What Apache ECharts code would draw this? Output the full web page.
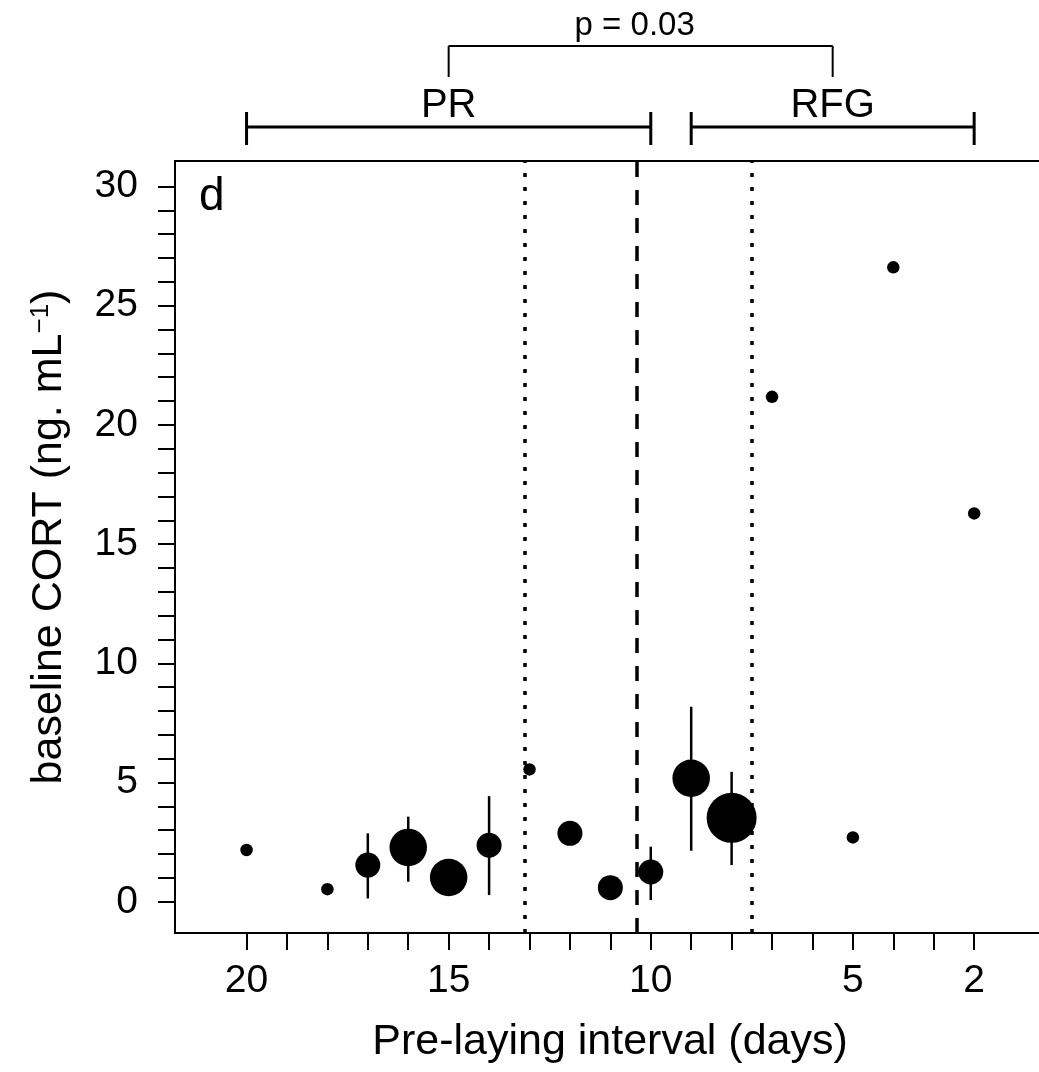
<!DOCTYPE html>
<html>
<head>
<meta charset="utf-8">
<script src="https://cdn.jsdelivr.net/npm/echarts@6/dist/echarts.min.js"></script>
<style>
    html, body { margin: 0; padding: 0; background: #fff; }
    #chart { width: 1039px; height: 1072px; }
</style>
</head>
<body>
<div id="chart"></div>
<script>
// 产前间隔（天）与基础 CORT
const days = [20, 18, 17, 16, 15, 14, 13, 12, 11, 10, 9, 8, 7, 5, 4, 2];
const cort = [2.17, 0.53, 1.54, 2.28, 1.02, 2.37, 5.55, 2.87, 0.59, 1.25, 5.18, 3.52, 21.18, 2.70, 26.61, 16.29];
const nSamples = [1, 1, 2, 3, 3, 2, 1, 2, 2, 2, 3, 4, 1, 1, 1, 1]; // 点的大小

// 误差线
const errDays = [17, 16, 14, 10, 9, 8];
const errLow = [0.14, 0.84, 0.28, 0.07, 2.14, 1.54];
const errHigh = [2.87, 3.57, 4.43, 2.31, 8.18, 5.45];

// 竖线
const dottedAt = [13.12, 7.5];
const dashedAt = [10.34];

// 上方分组括号
const groupNames = ['PR', 'RFG'];
const groupFrom = [20, 9];
const groupTo = [10, 2];
const compareFrom = [15];
const compareTo = [5.5];
const compareText = ['p = 0.03'];

// 刻度
const xTicks = [2, 3, 4, 5, 6, 7, 8, 9, 10, 11, 12, 13, 14, 15, 16, 17, 18, 19, 20];
const xLabels = [20, 15, 10, 5, 2];
const yTicks = [0, 1, 2, 3, 4, 5, 6, 7, 8, 9, 10, 11, 12, 13, 14, 15, 16, 17, 18, 19, 20,
    21, 22, 23, 24, 25, 26, 27, 28, 29, 30];
const yLabels = [0, 5, 10, 15, 20, 25, 30];

const FONT = '"Liberation Sans", Arial, sans-serif';

const chart = echarts.init(document.getElementById('chart'));

const renderErr = (params, api) => {
    const lo = api.coord([api.value(0), api.value(1)]);
    const hi = api.coord([api.value(0), api.value(2)]);
    return {
        type: 'line',
        shape: { x1: lo[0], y1: lo[1], x2: hi[0], y2: hi[1] },
        style: { stroke: '#000', lineWidth: 2.5 }
    };
};

const renderGroup = (params, api) => {
    const a = api.coord([api.value(0), 0]);
    const b = api.coord([api.value(1), 0]);
    const top = params.coordSys.y;
    const yLine = top - 34;
    const st = { stroke: '#000', lineWidth: 3 };
    return {
        type: 'group',
        children: [
            { type: 'line', shape: { x1: a[0], y1: yLine, x2: b[0], y2: yLine }, style: st },
            { type: 'line', shape: { x1: a[0], y1: top - 49, x2: a[0], y2: top - 16 }, style: st },
            { type: 'line', shape: { x1: b[0], y1: top - 49, x2: b[0], y2: top - 16 }, style: st },
            {
                type: 'text',
                style: {
                    text: groupNames[params.dataIndex], x: (a[0] + b[0]) / 2, y: top - 55,
                    align: 'center', verticalAlign: 'middle',
                    fontSize: 40, fontFamily: FONT, fill: '#000'
                }
            }
        ]
    };
};

const renderCompare = (params, api) => {
    const a = api.coord([api.value(0), 0]);
    const b = api.coord([api.value(1), 0]);
    const top = params.coordSys.y;
    const yLine = top - 115;
    const st = { stroke: '#000', lineWidth: 2 };
    return {
        type: 'group',
        children: [
            { type: 'line', shape: { x1: a[0], y1: yLine, x2: b[0], y2: yLine }, style: st },
            { type: 'line', shape: { x1: a[0], y1: yLine, x2: a[0], y2: top - 84 }, style: st },
            { type: 'line', shape: { x1: b[0], y1: yLine, x2: b[0], y2: top - 84 }, style: st },
            {
                type: 'text',
                style: {
                    text: compareText[params.dataIndex], x: (a[0] + b[0]) / 2 - 6, y: top - 135,
                    align: 'center', verticalAlign: 'middle',
                    fontSize: 33, fontFamily: FONT, fill: '#000'
                }
            }
        ]
    };
};

const vLines = [
    ...dottedAt.map(v => ({ xAxis: v, lineStyle: { type: [4, 10] } })),
    ...dashedAt.map(v => ({ xAxis: v, lineStyle: { type: [15, 13] } }))
];

const option = {
    animation: false,
    backgroundColor: '#fff',
    textStyle: { fontFamily: FONT, color: '#000' },
    title: {
        text: 'd',
        left: 199,
        top: 174,
        padding: 0,
        textStyle: { fontSize: 46, fontWeight: 'normal', fontFamily: FONT, color: '#000' }
    },
    grid: {
        left: 175,
        top: 161,
        width: 880,
        height: 772,
        show: true,
        borderColor: '#000',
        borderWidth: 2,
        outerBoundsMode: 'none'
    },
    xAxis: {
        type: 'value',
        inverse: true,
        min: 0,
        max: 21.77,
        splitLine: { show: false },
        axisLine: { show: true, onZero: false, lineStyle: { color: '#000', width: 2 } },
        axisTick: { show: true, length: 17, customValues: xTicks, lineStyle: { color: '#000', width: 2 } },
        axisLabel: { customValues: xLabels, fontSize: 39, margin: 29, color: '#000', fontFamily: FONT },
        name: 'Pre-laying interval (days)',
        nameLocation: 'middle',
        nameGap: 88,
        nameTextStyle: { fontSize: 43, color: '#000', fontFamily: FONT, padding: [0, 10, 0, 0] }
    },
    yAxis: {
        type: 'value',
        min: -1.31,
        max: 31.07,
        splitLine: { show: false },
        axisLine: { show: true, onZero: false, lineStyle: { color: '#000', width: 2 } },
        axisTick: { show: true, length: 17, customValues: yTicks, lineStyle: { color: '#000', width: 2 } },
        axisLabel: { customValues: yLabels, fontSize: 39, margin: 37, color: '#000', fontFamily: FONT },
        name: '{a|baseline CORT (ng. mL}{s|−1}{a|)}',
        nameLocation: 'middle',
        nameRotate: 90,
        nameGap: 104,
        nameTextStyle: {
            color: '#000',
            fontFamily: FONT,
            padding: [0, 0, 0, 20],
            rich: {
                a: { fontSize: 43, fontFamily: FONT, color: '#000', lineHeight: 43, padding: [12, 0, 0, 0], verticalAlign: 'bottom' },
                s: { fontSize: 26, fontFamily: FONT, color: '#000', lineHeight: 26, verticalAlign: 'top' }
            }
        }
    },
    series: [
        {
            type: 'custom',
            name: 'err',
            renderItem: renderErr,
            data: errDays.map((d, i) => [d, errLow[i], errHigh[i]]),
            z: 2
        },
        {
            type: 'scatter',
            name: 'cort',
            data: days.map((d, i) => [d, cort[i], nSamples[i]]),
            symbol: 'circle',
            symbolSize: v => 12.5 * v[2],
            itemStyle: { color: '#000', opacity: 1 },
            z: 3,
            markLine: {
                silent: true,
                symbol: 'none',
                label: { show: false },
                lineStyle: { color: '#000', width: 3.5 },
                data: vLines
            }
        },
        {
            type: 'custom',
            name: 'groups',
            renderItem: renderGroup,
            clip: false,
            data: groupNames.map((g, i) => [groupFrom[i], groupTo[i]])
        },
        {
            type: 'custom',
            name: 'compare',
            renderItem: renderCompare,
            clip: false,
            data: compareText.map((t, i) => [compareFrom[i], compareTo[i]])
        }
    ]
};

chart.setOption(option);
</script>
</body>
</html>
